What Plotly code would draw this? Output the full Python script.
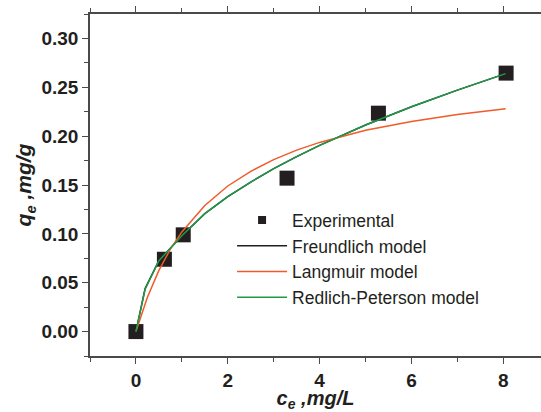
import plotly.graph_objects as go

# Experimental data
exp_c = [0.0, 0.62, 1.03, 3.29, 5.28, 8.06]
exp_q = [0.0, 0.074, 0.099, 0.157, 0.2235, 0.2645]

# Freundlich model curve
fr_c = [0, 0.2, 0.5, 1.0, 1.5, 2.0, 2.5, 3.0, 3.5, 4.0, 5.0, 6.0, 7.0, 8.05]
fr_q = [0, 0.044, 0.0725, 0.098, 0.1207, 0.138, 0.153, 0.1667, 0.179, 0.1905, 0.2114, 0.2301, 0.2471, 0.264]

# Langmuir model curve
la_c = [0, 0.25, 0.5, 0.75, 1.0, 1.5, 2.0, 2.5, 3.0, 3.5, 4.0, 5.0, 6.0, 7.0, 8.05]
la_q = [0, 0.0352, 0.0626, 0.0843, 0.102, 0.129, 0.149, 0.164, 0.176, 0.1857, 0.1936, 0.206, 0.2151, 0.2222, 0.228]

# Redlich-Peterson model curve
rp_c = [0, 0.2, 0.5, 1.0, 1.5, 2.0, 2.5, 3.0, 3.5, 4.0, 5.0, 6.0, 7.0, 8.05]
rp_q = [0, 0.0433, 0.0725, 0.098, 0.1207, 0.138, 0.153, 0.1667, 0.179, 0.1905, 0.2114, 0.2301, 0.2471, 0.264]

names = ["Experimental", "Freundlich model", "Langmuir model", "Redlich-Peterson model"]
DARK = "#231f20"
RED = "#f15a29"
GREEN = "#1f9a48"
AXC = "#4a4a4a"
FONT = "Liberation Sans, Arial, sans-serif"

fig = go.Figure()
fig.add_trace(go.Scatter(x=exp_c, y=exp_q, mode="markers", showlegend=False,
                         marker=dict(symbol="square", size=15, color=DARK,
                                     line=dict(width=0))))
fig.add_trace(go.Scatter(x=[None], y=[None], mode="markers", name=names[0],
                         legendrank=1, legendgroup="a",
                         marker=dict(symbol="square", size=8, color=DARK)))
fig.add_trace(go.Scatter(x=fr_c, y=fr_q, mode="lines", name=names[1],
                         legendrank=2, legendgroup="b",
                         line=dict(color=DARK, width=1.5)))
fig.add_trace(go.Scatter(x=la_c, y=la_q, mode="lines", name=names[2],
                         legendrank=3, legendgroup="c",
                         line=dict(color=RED, width=1.5)))
fig.add_trace(go.Scatter(x=rp_c, y=rp_q, mode="lines", name=names[3],
                         legendrank=4, legendgroup="d",
                         line=dict(color=GREEN, width=1.5)))

axis_common = dict(
    showgrid=False, zeroline=False, showline=True, linecolor=AXC, linewidth=1.5,
    ticks="outside", tickcolor=AXC, tickwidth=1.2, ticklen=6,
    tickfont=dict(family=FONT, size=19, color=DARK, weight="bold"),
)

fig.update_xaxes(**axis_common, range=[-1, 8.82], tickvals=[0, 2, 4, 6, 8],
                 mirror="ticks",
                 minor=dict(dtick=1, tick0=0, ticks="outside", ticklen=4,
                            tickcolor=AXC, tickwidth=1.2),
                 title=dict(text="<b><i>c</i></b><sub><b><i>e</i></b></sub><b><i> ,mg/L</i></b>",
                            font=dict(family=FONT, size=20, color=DARK), standoff=4))
fig.update_yaxes(**axis_common, range=[-0.025, 0.325], tickvals=[0, 0.05, 0.1, 0.15, 0.2, 0.25, 0.3],
                 tickformat=".2f", mirror=False,
                 minor=dict(dtick=0.025, tick0=0, ticks="outside", ticklen=4,
                            tickcolor=AXC, tickwidth=1.2),
                 title=dict(text="<b><i>q</i></b><sub><b><i>e</i></b></sub><b><i> ,mg/g</i></b>",
                            font=dict(family=FONT, size=21, color=DARK), standoff=4))

fig.update_layout(
    width=541, height=412,
    margin=dict(l=90, r=0, t=14, b=56),
    paper_bgcolor="white", plot_bgcolor="white",
    legend=dict(x=0.315, y=0.45, xanchor="left", yanchor="top",
                bgcolor="rgba(0,0,0,0)", tracegroupgap=0, itemwidth=50,
                font=dict(family=FONT, size=17.5, color=DARK)),
)

fig.write_html("out.html")
